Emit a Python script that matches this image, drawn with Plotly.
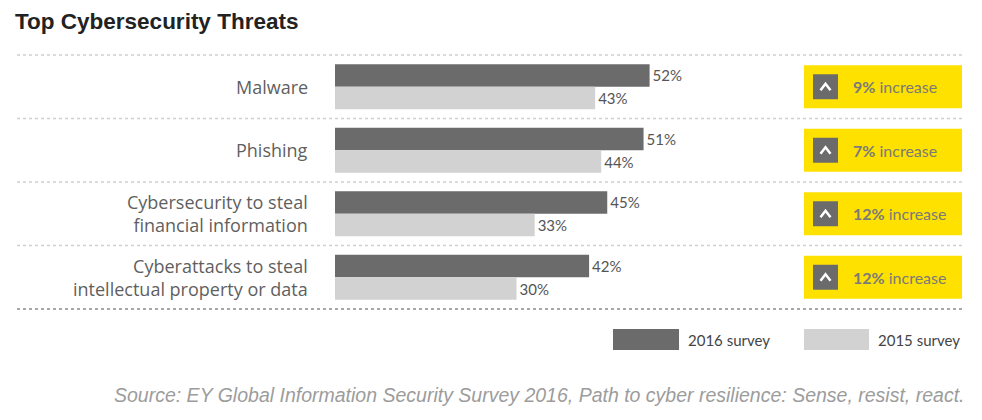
import plotly.graph_objects as go

# ---- data ----
categories = [
    "Malware",
    "Phishing",
    "Cybersecurity to steal<br>financial information",
    "Cyberattacks to steal<br>intellectual property or data",
]
survey_2016 = [52, 51, 45, 42]
survey_2015 = [43, 44, 33, 30]
series_names = ["2016 survey", "2015 survey"]
title_text = "Top Cybersecurity Threats"
source_text = "Source: EY Global Information Security Survey 2016, Path to cyber resilience: Sense, resist, react."

# ---- layout constants (page pixels) ----
W, H = 982, 420
OFF = 8                # default body margin of the html page
X0_PX = 335.0          # where 0% sits on the page
PX_PER_UNIT = 6.05
ROW_TOP, ROW_BOT = 55.0, 309.0
ROW_H = (ROW_BOT - ROW_TOP) / len(categories)

DARK = "#6b6b6b"
LIGHT = "#d2d2d2"
YELLOW = "#FFE100"
FONT = "Lato"
LABEL_FONT = "Open Sans"


def px(x):
    return (x - OFF) / W


def py(y):
    return 1 - (y - OFF) / H


def row_center(i):
    return ROW_TOP + (i + 0.5) * ROW_H


fig = go.Figure()
fig.add_trace(go.Bar(
    y=categories, x=survey_2016, orientation="h", name=series_names[0],
    marker=dict(color=DARK, line=dict(width=0)),
    texttemplate="%{x}%", textposition="outside",
    textfont=dict(family=FONT, size=15, color="#555555"),
    cliponaxis=False, showlegend=False,
))
fig.add_trace(go.Bar(
    y=categories, x=survey_2015, orientation="h", name=series_names[1],
    marker=dict(color=LIGHT, line=dict(width=0)),
    texttemplate="%{x}%", textposition="outside",
    textfont=dict(family=FONT, size=15, color="#555555"),
    cliponaxis=False, showlegend=False,
))

shapes = []
annotations = []

# dotted separators
n = len(categories)
for k in range(n + 1):
    yy = ROW_TOP + k * ROW_H
    last = k == n
    shapes.append(dict(
        type="line", xref="paper", yref="paper",
        x0=px(17), x1=px(965), y0=py(yy), y1=py(yy),
        line=dict(color="#a8a8a8" if last else "#cfcfcf",
                  width=2 if last else 1.5, dash="dot"),
    ))

# category labels
for i, c in enumerate(categories):
    annotations.append(dict(
        xref="paper", yref="paper", x=px(310), y=py(row_center(i)),
        xanchor="right", yanchor="middle", align="right",
        text=c, showarrow=False,
        font=dict(family=LABEL_FONT, size=18, color="#5f5f5f"),
    ))

# increase boxes
for i, (a, b) in enumerate(zip(survey_2016, survey_2015)):
    cy = row_center(i)
    shapes.append(dict(
        type="rect", xref="paper", yref="paper",
        x0=px(804), x1=px(962), y0=py(cy + 21.5), y1=py(cy - 21.5),
        fillcolor=YELLOW, line=dict(width=0), layer="below",
    ))
    shapes.append(dict(
        type="rect", xref="paper", yref="paper",
        x0=px(813), x1=px(838), y0=py(cy + 12.5), y1=py(cy - 12.5),
        fillcolor=DARK, line=dict(width=0),
    ))
    path = "M %f,%f L %f,%f L %f,%f" % (
        px(820.5), py(cy + 3.5), px(825.5), py(cy - 3), px(830.5), py(cy + 3.5))
    shapes.append(dict(
        type="path", xref="paper", yref="paper", path=path,
        line=dict(color="white", width=2.5),
    ))
    annotations.append(dict(
        xref="paper", yref="paper", x=px(851), y=py(cy),
        xanchor="left", yanchor="middle", showarrow=False,
        text="<b>%d%%</b> increase" % (a - b),
        font=dict(family=FONT, size=16, color="#7a7a7a"),
    ))

# custom legend
legend_items = [(613, 679, DARK, series_names[0]), (804, 869, LIGHT, series_names[1])]
for x0, x1, col, name in legend_items:
    shapes.append(dict(
        type="rect", xref="paper", yref="paper",
        x0=px(x0), x1=px(x1), y0=py(350), y1=py(329),
        fillcolor=col, line=dict(width=0),
    ))
    annotations.append(dict(
        xref="paper", yref="paper", x=px(x1 + 7), y=py(339.5),
        xanchor="left", yanchor="middle", showarrow=False,
        text=name, font=dict(family=FONT, size=15, color="#444444"),
    ))

# title
annotations.append(dict(
    xref="paper", yref="paper", x=px(13), y=py(22),
    xanchor="left", yanchor="middle", showarrow=False,
    text="<b>%s</b>" % title_text,
    font=dict(family="Liberation Sans", size=22.5, color="#222222"),
))

# source
annotations.append(dict(
    xref="paper", yref="paper", x=px(966), y=py(395),
    xanchor="right", yanchor="middle", showarrow=False,
    text="<i>%s</i>" % source_text,
    font=dict(family="Liberation Sans", size=19.5, color="#9c9c9c"),
))

fig.update_layout(
    width=W, height=H,
    margin=dict(l=0, r=0, t=0, b=0),
    paper_bgcolor="white", plot_bgcolor="white",
    barmode="group", bargap=0.29, bargroupgap=0,
    xaxis=dict(range=[-(X0_PX - OFF) / PX_PER_UNIT, (W - (X0_PX - OFF)) / PX_PER_UNIT],
               domain=[0, 1], visible=False, fixedrange=True),
    yaxis=dict(type="category", categoryorder="array", categoryarray=categories,
               range=[n - 0.5, -0.5], domain=[py(ROW_BOT), py(ROW_TOP)],
               visible=False, fixedrange=True),
    shapes=shapes, annotations=annotations,
    showlegend=False,
)

fig.write_html("out.html", config={"displayModeBar": False})
